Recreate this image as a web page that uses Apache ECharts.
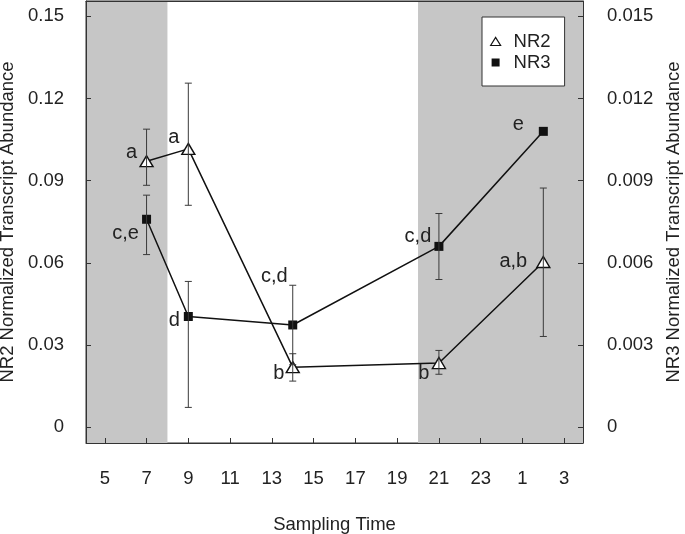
<!DOCTYPE html>
<html><head><meta charset="utf-8">
<script src="https://cdn.jsdelivr.net/npm/echarts@6/dist/echarts.min.js"></script>
<style>html,body{margin:0;padding:0;background:#fff}#c{width:685px;height:534px}</style>
</head><body><div id="c"></div>
<script>
// ---- data ----
const hours = [7, 9, 14, 21, 26];            // 26 = 2 h next day
const nr2Values = [0.0971, 0.1016, 0.0219, 0.0234, 0.0603];
const nr2Low    = [0.0883, 0.0810, 0.0168, 0.0193, 0.0331];
const nr2High   = [0.1088, 0.1256, 0.0268, 0.0280, 0.0873];
const nr2Letters = ['a', 'a', 'b', 'b', 'a,b'];
const nr3Values = [0.00759, 0.00404, 0.00373, 0.00660, 0.01080];
const nr3Low    = [0.00630, 0.00072, 0.00228, 0.00539, 0.01080];
const nr3High   = [0.00847, 0.00532, 0.00518, 0.00780, 0.01080];
const nr3Letters = ['c,e', 'd', 'c,d', 'c,d', 'e'];
const xMin = 4.1, xMax = 27.9;
const darkPeriods = [[xMin, 8], [20, xMax]];
const xTickValues = [5, 7, 9, 11, 13, 15, 17, 19, 21, 23, 25, 27];
const xTickLabels = ['5', '7', '9', '11', '13', '15', '17', '19', '21', '23', '1', '3'];
const nr2TickValues = [0, 0.03, 0.06, 0.09, 0.12, 0.15];
const nr2TickLabels = ['0', '0.03', '0.06', '0.09', '0.12', '0.15'];
const nr3TickValues = [0, 0.003, 0.006, 0.009, 0.012, 0.015];
const nr3TickLabels = ['0', '0.003', '0.006', '0.009', '0.012', '0.015'];

// ---- styling ----
const FONT = "'Liberation Sans', Arial, sans-serif";
const TXT = '#222';
const AX = '#333';
const nr2LabelOffsets = [[-15, -9], [-14.5, -11.5], [-14, 6], [-15, 10], [-30, 0]];
const nr3LabelOffsets = [[-21, 14], [-14, 4], [-18.5, -48], [-21, -10], [-25, -7]];

function lookup(values, labels) {
  return function (v) {
    for (let i = 0; i < values.length; i++) if (Math.abs(v - values[i]) < 1e-9) return labels[i];
    return '';
  };
}

function errorBars(name, yIdx, low, high) {
  const data = [];
  hours.forEach((h, i) => { if (high[i] > low[i]) data.push([h, low[i], high[i]]); });
  return {
    type: 'custom', name: name, yAxisIndex: yIdx, z: 4, silent: true,
    encode: { x: 0, y: [1, 2] },
    data: data,
    renderItem: function (params, api) {
      const x = api.value(0);
      const lo = api.coord([x, api.value(1)]);
      const hi = api.coord([x, api.value(2)]);
      const w = 3.5;
      const style = { stroke: '#3a3a3a', lineWidth: 1 };
      return {
        type: 'group', children: [
          { type: 'line', shape: { x1: lo[0], y1: lo[1], x2: hi[0], y2: hi[1] }, style: style },
          { type: 'line', shape: { x1: lo[0] - w, y1: lo[1], x2: lo[0] + w, y2: lo[1] }, style: style },
          { type: 'line', shape: { x1: hi[0] - w, y1: hi[1], x2: hi[0] + w, y2: hi[1] }, style: style }
        ]
      };
    }
  };
}

function yAxisCfg(pos, name, gap, ticks, labels, min, max, margin) {
  return {
    type: 'value', position: pos, min: min, max: max,
    name: name, nameLocation: 'middle', nameGap: gap, nameRotate: 90,
    nameTextStyle: { fontFamily: FONT, fontSize: 18.5, color: TXT },
    axisLine: { show: true, onZero: false, lineStyle: { color: AX, width: 1 } },
    axisTick: { show: true, inside: true, length: 5, customValues: ticks, lineStyle: { color: AX } },
    axisLabel: { customValues: ticks, formatter: lookup(ticks, labels), margin: margin,
      fontFamily: FONT, fontSize: 18.5, color: TXT },
    splitLine: { show: false }
  };
}

const option = {
  animation: false,
  backgroundColor: '#fff',
  grid: { left: 86, top: 1, right: 102, bottom: 91, containLabel: false, outerBoundsMode: 'none',
    show: true, borderColor: AX, borderWidth: 1, backgroundColor: '#fff' },
  legend: {
    orient: 'vertical', left: 482, top: 17, padding: [15, 14, 14, 8], itemGap: 2,
    itemWidth: 26, itemHeight: 8, backgroundColor: '#fff', borderColor: AX, borderWidth: 1,
    textStyle: { fontFamily: FONT, fontSize: 18.5, color: TXT },
    data: [
      { name: 'NR2', icon: 'path://M0,8 L5,0 L10,8 Z', itemStyle: { color: '#fff', borderColor: '#111', borderWidth: 1.2 } },
      { name: 'NR3', icon: 'path://M0,0 L7,0 L7,7 L0,7 Z', itemStyle: { color: '#111' } }
    ]
  },
  xAxis: [{
    type: 'value', min: xMin, max: xMax, position: 'bottom',
    name: 'Sampling Time', nameLocation: 'middle', nameGap: 72,
    nameTextStyle: { fontFamily: FONT, fontSize: 18.5, color: TXT },
    axisLine: { show: true, onZero: false, lineStyle: { color: AX, width: 1 } },
    axisTick: { show: true, inside: true, length: 5, customValues: xTickValues, lineStyle: { color: AX } },
    axisLabel: { customValues: xTickValues, formatter: lookup(xTickValues, xTickLabels), margin: 26,
      fontFamily: FONT, fontSize: 18.5, color: TXT },
    splitLine: { show: false }
  }, {
    type: 'value', min: xMin, max: xMax, position: 'top',
    axisLine: { show: true, onZero: false, lineStyle: { color: AX, width: 1 } },
    axisTick: { show: false }, axisLabel: { show: false }, splitLine: { show: false }
  }],
  yAxis: [
    yAxisCfg('left', 'NR2 Normalized Transcript Abundance', 66, nr2TickValues, nr2TickLabels, -0.0058, 0.1556, 22),
    yAxisCfg('right', 'NR3 Normalized Transcript Abundance', 80, nr3TickValues, nr3TickLabels, -0.00058, 0.01556, 24)
  ],
  series: [
    {
      type: 'line', name: 'NR2', yAxisIndex: 0, z: 3,
      symbol: 'triangle', symbolSize: [13, 11],
      itemStyle: { color: '#fff', borderColor: '#111', borderWidth: 1.4 },
      lineStyle: { color: '#111', width: 1.5 },
      label: { show: true, position: 'inside', fontFamily: FONT, fontSize: 20, color: TXT, textBorderWidth: 0 },
      data: hours.map((h, i) => ({ value: [h, nr2Values[i]], label: { formatter: nr2Letters[i], offset: nr2LabelOffsets[i] } })),
      markArea: {
        silent: true, z: 0,
        itemStyle: { color: '#c6c6c6' },
        data: darkPeriods.map(p => [{ xAxis: p[0] }, { xAxis: p[1] }])
      }
    },
    {
      type: 'line', name: 'NR3', yAxisIndex: 1, z: 3,
      symbol: 'rect', symbolSize: 9,
      itemStyle: { color: '#111' },
      lineStyle: { color: '#111', width: 1.5 },
      label: { show: true, position: 'inside', fontFamily: FONT, fontSize: 20, color: TXT, textBorderWidth: 0 },
      data: hours.map((h, i) => ({ value: [h, nr3Values[i]], label: { formatter: nr3Letters[i], offset: nr3LabelOffsets[i] } }))
    },
    errorBars('NR2 error', 0, nr2Low, nr2High),
    errorBars('NR3 error', 1, nr3Low, nr3High)
  ]
};

const chart = echarts.init(document.getElementById('c'), null, { renderer: 'canvas' });
chart.setOption(option);
</script>
</body></html>
